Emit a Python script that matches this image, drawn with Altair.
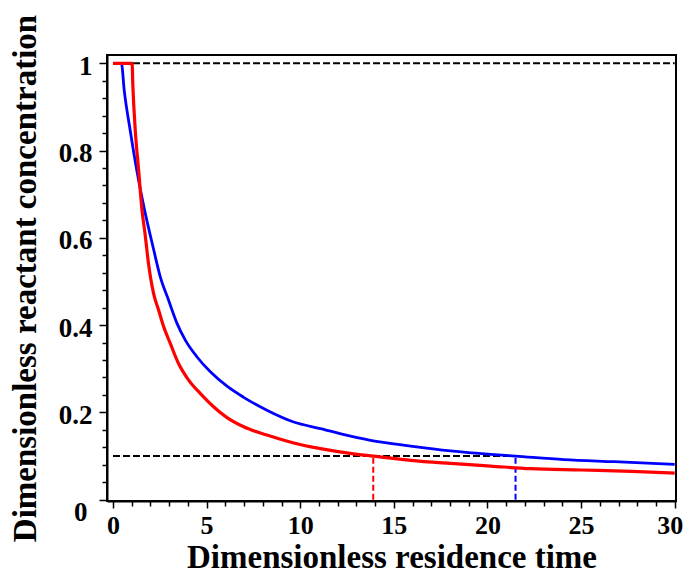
import altair as alt
import pandas as pd

# Blue curve
blue_x = [0, 0.45, 0.6, 0.92, 1.27, 1.69, 2.14, 2.53, 2.97, 3.42, 3.87, 4.49, 5.2, 6.09, 7.0,
          8.22, 9.65, 11.08, 13.04, 13.75, 15.9, 18.03, 20.17, 21.5, 24.08, 26.76, 30]
blue_y = [1, 1, 0.938, 0.846, 0.755, 0.663, 0.579, 0.51, 0.457, 0.404, 0.365, 0.327, 0.293, 0.26, 0.234,
          0.205, 0.178, 0.163, 0.142, 0.136, 0.123, 0.112, 0.104, 0.1, 0.092, 0.087, 0.081]

# Red curve
red_x = [0, 1.02, 1.06, 1.19, 1.37, 1.55, 1.71, 1.9, 2.17, 2.44, 2.71, 3.06, 3.5, 4.04, 4.67,
         5.37, 6.09, 6.98, 8.22, 9.65, 11.08, 13.04, 13.9, 15.9, 18.03, 20.17, 22.3, 25, 27.7, 30]
red_y = [1, 1, 0.95, 0.846, 0.755, 0.663, 0.61, 0.54, 0.472, 0.434, 0.396, 0.358, 0.312, 0.274, 0.243,
         0.213, 0.188, 0.167, 0.148, 0.13, 0.117, 0.104, 0.1, 0.09, 0.083, 0.077, 0.071, 0.068, 0.065, 0.061]

# Dashed guide lines
h_y = [1, 0.1]
h_x1 = [0, 0]
h_x2 = [30, 21.5]
v_x = [13.9, 21.5]
v_y2 = [0.1, 0.1]
v_col = ["red", "blue"]

x_ticks = list(range(0, 31))
y_ticks = [round(i * 0.04, 2) for i in range(26)]

blue_df = pd.DataFrame({"x": blue_x, "y": blue_y})
red_df = pd.DataFrame({"x": red_x, "y": red_y})
h_df = pd.DataFrame({"y": h_y, "x1": h_x1, "x2": h_x2})
v_df = pd.DataFrame({"x": v_x, "y1": [0, 0], "y2": v_y2, "c": v_col})

FONT = "Liberation Serif"

xscale = alt.Scale(domain=[-0.32, 30.07], nice=False, zero=False)
yscale = alt.Scale(domain=[-0.003, 1.019], nice=False, zero=False)

xaxis = alt.Axis(
    values=x_ticks, tickCount=100,
    title="Dimensionless residence time",
    titleFont=FONT, titleFontSize=33, titleFontWeight="bold", titleColor="black",
    titlePadding=3,
    labelFont=FONT, labelFontSize=26, labelFontWeight="bold", labelColor="black",
    labelExpr="datum.value % 5 === 0 ? toString(datum.value) : ''",
    labelOverlap=False, labelFlush=False, labelPadding=4,
    labelOffset={"condition": {"test": "datum.value === 30", "value": -5}, "value": 0},
    tickSize={"condition": {"test": "datum.value % 5 === 0", "value": 7}, "value": 5},
    tickColor="black", tickWidth=1.5,
    domainColor="black", domainWidth=2, grid=False,
)
yaxis = alt.Axis(
    values=y_ticks, tickCount=100,
    title="Dimensionless reactant  concentration",
    titleFont=FONT, titleFontSize=33, titleFontWeight="bold", titleColor="black",
    titlePadding=16,
    labelFont=FONT, labelFontSize=27, labelFontWeight="bold", labelColor="black",
    labelExpr="abs(datum.value * 5 - round(datum.value * 5)) < 0.001 ? toString(round(datum.value * 10) / 10) : ''",
    labelOverlap=False, labelFlush=False,
    labelPadding={"condition": {"test": "datum.value === 0", "value": 12}, "value": 7},
    labelOffset={"condition": {"test": "datum.value === 0", "value": 13}, "value": 3},
    tickSize={"condition": {"test": "abs(datum.value * 5 - round(datum.value * 5)) < 0.001", "value": 8}, "value": 5},
    tickColor="black", tickWidth=1.5,
    domainColor="black", domainWidth=2, grid=False,
)

hlines = alt.Chart(h_df).mark_rule(color="black", strokeWidth=2, strokeDash=[7, 3]).encode(
    x=alt.X("x1:Q", scale=xscale, axis=xaxis),
    x2="x2:Q",
    y=alt.Y("y:Q", scale=yscale, axis=yaxis),
)

vlines = alt.Chart(v_df).mark_rule(strokeWidth=2, strokeDash=[6, 3]).encode(
    x=alt.X("x:Q", scale=xscale),
    y=alt.Y("y1:Q", scale=yscale),
    y2="y2:Q",
    color=alt.Color("c:N", scale=alt.Scale(domain=["red", "blue"], range=["#ff0000", "#0000ff"]), legend=None),
)

blue_line = alt.Chart(blue_df).mark_line(color="#0000ff", strokeWidth=2.8, interpolate="monotone").encode(
    x=alt.X("x:Q", scale=xscale), y=alt.Y("y:Q", scale=yscale), order="x:Q"
)
red_line = alt.Chart(red_df).mark_line(color="#ff0000", strokeWidth=3.2, interpolate="monotone").encode(
    x=alt.X("x:Q", scale=xscale), y=alt.Y("y:Q", scale=yscale), order="x:Q"
)

chart = alt.layer(hlines, vlines, blue_line, red_line).properties(
    width=569, height=446,
    autosize=alt.AutoSizeParams(type="none"),
    padding={"left": 99, "top": 47, "right": 7, "bottom": 68},
    background="white",
).configure_view(stroke="black", strokeWidth=2)

chart.save("out.html", embed_options={"renderer": "svg", "actions": False})
